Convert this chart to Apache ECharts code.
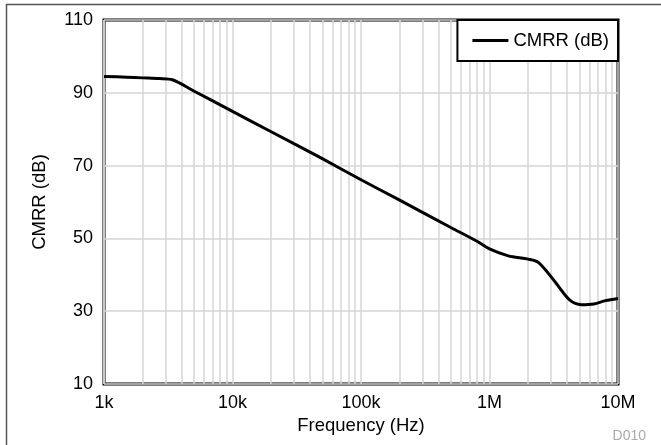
<!DOCTYPE html>
<html>
<head>
<meta charset="utf-8">
<script src="https://cdn.jsdelivr.net/npm/echarts@6/dist/echarts.min.js"></script>
<style>
html,body{margin:0;padding:0;background:#fff;}
#c{width:661px;height:445px;}
</style>
</head>
<body>
<div id="c"></div>
<script>
// Frequency (Hz) and CMRR (dB)
var freqHz = [1000, 1500, 2000, 2700, 3400, 5000, 10000, 20000, 50000, 100000, 200000, 500000, 800000, 1000000, 1400000, 2000000, 2400000, 3200000, 4200000, 5200000, 6500000, 8000000, 10000000];
var cmrrDb = [94.5, 94.3, 94.1, 93.9, 93.6, 90.5, 84.9, 79.3, 71.9, 66.1, 60.5, 53.0, 49.2, 47.1, 45.2, 44.3, 43.4, 38.3, 33.1, 31.8, 32.0, 32.9, 33.5];
var xTickValues = [1000, 10000, 100000, 1000000, 10000000];
var xTickLabels = ['1k', '10k', '100k', '1M', '10M'];
var yTickLabels = ['10', '30', '50', '70', '90', '110'];
var minorMultipliers = [2, 3, 4, 5, 6, 7, 8, 9];

var font = '"Liberation Sans", Arial, Helvetica, sans-serif';
var minorLines = [];
for (var d = 0; d < xTickValues.length - 1; d++) {
  for (var m = 0; m < minorMultipliers.length; m++) {
    minorLines.push({ xAxis: xTickValues[d] * minorMultipliers[m] });
  }
}
var seriesData = freqHz.map(function (f, i) { return [f, cmrrDb[i]]; });

var chart = echarts.init(document.getElementById('c'), null, { renderer: 'canvas' });
chart.setOption({
  animation: false,
  backgroundColor: '#fff',
  textStyle: { fontFamily: font },
  grid: {
    left: 104, right: 43, top: 20, bottom: 61,
    show: true, borderColor: '#000', borderWidth: 3, backgroundColor: 'transparent'
  },
  legend: {
    right: 43, top: 20, z: 50, zlevel: 0,
    icon: 'rect', itemWidth: 36, itemHeight: 3, itemGap: 0,
    itemTextGap: 12,
    padding: [11, 9, 11, 15],
    borderColor: '#000', borderWidth: 2, backgroundColor: '#fff',
    textStyle: { fontSize: 18.5, color: '#000', fontFamily: font },
    data: [{ name: 'CMRR (dB)', itemStyle: { color: '#000' } }]
  },
  xAxis: {
    type: 'log', logBase: 10, min: 1000, max: 10000000,
    name: 'Frequency (Hz)', nameLocation: 'middle', nameGap: 32,
    nameTextStyle: { fontSize: 18.5, color: '#000', fontFamily: font },
    axisLine: { show: false },
    axisTick: { show: false },
    axisLabel: {
      fontSize: 18, color: '#000', margin: 10, fontFamily: font,
      formatter: function (v) {
        var i = Math.round(Math.log10(v)) - 3;
        return xTickLabels[i] !== undefined ? xTickLabels[i] : '';
      }
    },
    splitLine: { show: true, lineStyle: { color: '#d6d6d6', width: 1.5 } }
  },
  yAxis: {
    type: 'value', min: 10, max: 110, interval: 20,
    name: 'CMRR (dB)', nameLocation: 'middle', nameGap: 55,
    nameTextStyle: { fontSize: 18.5, color: '#000', fontFamily: font },
    axisLine: { show: false },
    axisTick: { show: false },
    axisLabel: {
      fontSize: 18, color: '#000', margin: 11, fontFamily: font,
      formatter: function (v) {
        var i = Math.round((v - 10) / 20);
        return yTickLabels[i] !== undefined ? yTickLabels[i] : '';
      }
    },
    splitLine: { show: true, lineStyle: { color: '#d6d6d6', width: 1.5 } }
  },
  series: [
    {
      name: 'minor', type: 'line', data: [], z: 1, silent: true,
      markLine: {
        silent: true, symbol: ['none', 'none'], label: { show: false },
        lineStyle: { color: '#d6d6d6', width: 1.5, type: 'solid' },
        emphasis: { disabled: true },
        animation: false, z: 1,
        data: minorLines
      }
    },
    {
      name: 'CMRR (dB)', type: 'line', data: seriesData, z: 5,
      showSymbol: false, symbol: 'none', smooth: 0.3,
      lineStyle: { color: '#000', width: 3 },
      itemStyle: { color: '#000' }
    }
  ],
  graphic: [
    {
      type: 'rect', left: 4, top: 2, silent: true, z: 100,
      shape: { x: 0, y: 0, width: 700, height: 500 },
      style: { fill: 'none', stroke: '#555', lineWidth: 1.5 }
    },
    {
      type: 'text', right: 15, bottom: 2, silent: true,
      style: { text: 'D010', fontSize: 14, fill: '#aaa', fontFamily: font }
    }
  ]
});
</script>
</body>
</html>
